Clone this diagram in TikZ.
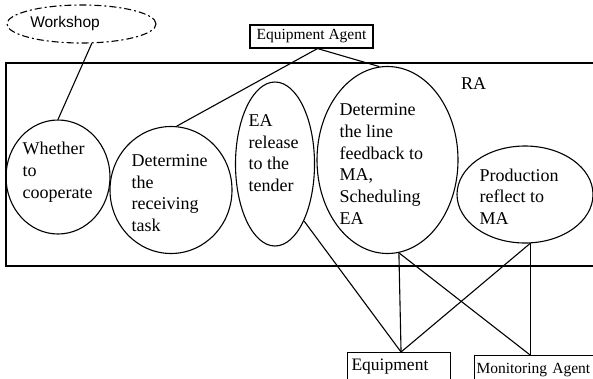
\documentclass[tikz,border=0pt]{standalone}
\usepackage{fontspec}
\setmainfont{Liberation Serif}
\newfontfamily\sansfont{Liberation Sans}
\usetikzlibrary{shapes.geometric}

\begin{document}
\begin{tikzpicture}[x=1pt, y=-1pt, line width=1.1pt,
    task/.style={ellipse, draw, inner sep=0pt},
    tasktext/.style={align=left, anchor=west, inner sep=0pt, font=\fontsize{18}{21.7}\selectfont},
    agentbox/.style={draw, rectangle, inner xsep=2pt, inner ysep=0pt, font=\fontsize{15.5}{19}\selectfont}]
    \useasboundingbox (0,0) rectangle (593,378);
    \clip (0,0) rectangle (593,378);

    % workshop and RA frame
    \node[ellipse, draw, dash pattern=on 7pt off 3pt on 2pt off 3pt, minimum width=149pt, minimum height=38pt] (wks) at (81.5,24) {};
    \node[font=\sansfont\fontsize{15.5}{18}\selectfont, inner sep=0pt] (wkstext) at (65,23) {Workshop};
    \draw (6,63) rectangle (600,266);
    \node[font=\fontsize{18}{21.7}\selectfont, inner sep=0pt] (ra) at (473.5,84) {RA};

    % tasks of RA
    \node[task, minimum width=104pt, minimum height=114pt] (coop) at (58,177) {};
    \node[tasktext] (cooptext) at (22,172) {Whether\\to\\cooperate};
    \node[task, minimum width=122pt, minimum height=127pt] (recv) at (171,190) {};
    \node[tasktext] (recvtext) at (131,193) {Determine\\the\\receiving\\task};
    \node[task, minimum width=79pt, minimum height=164pt] (rel) at (275,164) {};
    \node[tasktext] (reltext) at (248,153) {EA\\release\\to the\\tender};
    \node[task, minimum width=141pt, minimum height=187pt] (feed) at (387.5,160) {};
    \node[tasktext] (feedtext) at (339,164) {Determine\\the line\\feedback to\\MA,\\Scheduling\\EA};
    \node[task, minimum width=136pt, minimum height=97pt] (prod) at (525,194.5) {};
    \node[tasktext] (prodtext) at (479,196.5) {Production\\reflect to\\MA};

    % agents
    \node[agentbox, minimum width=123pt, minimum height=23pt] (agent) at (311.5,36.5) {Equipment Agent};
    \node[agentbox, anchor=north west, text width=95pt, align=left, inner xsep=4pt, minimum height=28pt, font=\fontsize{17.5}{20}\selectfont] (equip) at (347,352) {Equipment};
    \node[agentbox, anchor=north west, text width=140pt, align=left, minimum height=28pt] (mon) at (474,355) {Monitoring Agent};

    \coordinate (feedfoot) at (feed.-83);
    \coordinate (prodfoot) at (prod.-84);

    \draw (wks.-62) -- (coop.north);
    \draw ([xshift=6pt]agent.south) -- (recv.85);
    \draw ([xshift=6pt]agent.south) -- (feed.95);
    \draw (rel.-63) -- ([xshift=2pt]equip.north);
    \draw (feedfoot) -- ([xshift=2pt]equip.north);
    \draw (feedfoot) -- (prodfoot |- mon.north);
    \draw (prodfoot) -- ([xshift=2pt]equip.north);
    \draw (prodfoot) -- (prodfoot |- mon.north);
\end{tikzpicture}
\end{document}
